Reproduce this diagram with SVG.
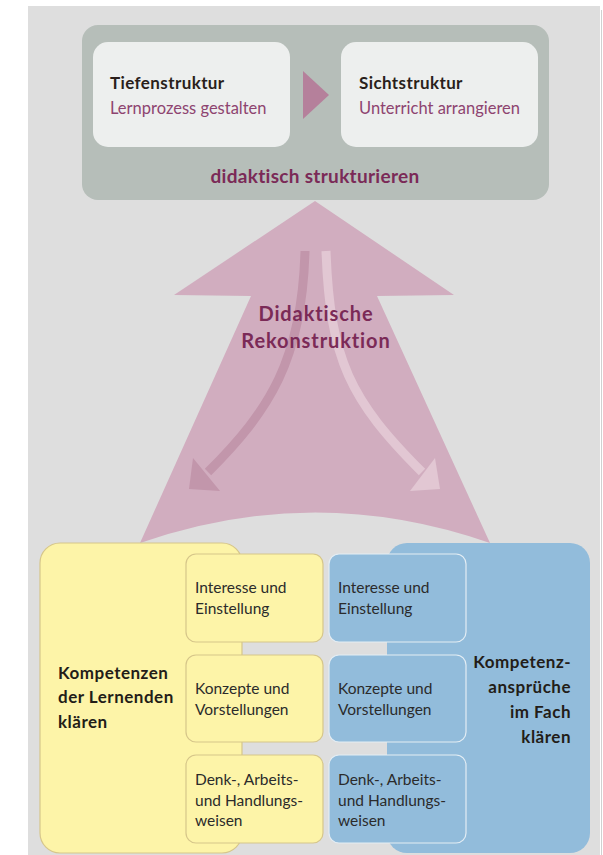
<svg xmlns="http://www.w3.org/2000/svg" width="603" height="855" viewBox="0 0 603 855">
  <style>
    text { font-family: Lato, "Open Sans", "Liberation Sans", sans-serif; }
    .head { font-size: 17px; font-weight: 700; fill: #2a1f1b; letter-spacing: 0.4px; }
    .sub { font-size: 16.5px; fill: #8e4470; }
    .title { font-size: 19px; font-weight: 700; fill: #7b2a57; letter-spacing: 0.3px; }
    .big { font-size: 20px; letter-spacing: 0.9px; }
    .item { font-size: 15.5px; fill: #2b2b2b; }
    .label { font-size: 17px; font-weight: 700; fill: #231d18; letter-spacing: 0.5px; }
    .inner { fill: #edefee; }
    .ybox { fill: #fdf4a8; stroke: #d6c68a; stroke-width: 1.2; }
    .bbox { fill: #92bcdb; stroke: #e3edf4; stroke-width: 1.2; }
  </style>

  <!-- page background -->
  <rect x="0" y="0" width="603" height="855" fill="#ffffff"/>
  <rect x="28" y="6" width="572" height="849" fill="#dedede"/>
  <line x1="601.5" y1="10" x2="601.5" y2="855" stroke="#d0d0d0" stroke-width="1"/>

  <!-- top: didaktisch strukturieren -->
  <g id="strukturieren">
    <rect x="82" y="25" width="467" height="175" rx="16" fill="#b6beb9"/>
    <text class="title" x="315" y="183" text-anchor="middle">didaktisch strukturieren</text>
  </g>
  <g id="tiefenstruktur">
    <rect class="inner" x="93" y="42" width="197" height="105" rx="15"/>
    <text class="head" x="110" y="89">Tiefenstruktur</text>
    <text class="sub" x="110" y="114">Lernprozess gestalten</text>
  </g>
  <g id="sichtstruktur">
    <rect class="inner" x="341" y="42" width="197" height="105" rx="15"/>
    <text class="head" x="359" y="89">Sichtstruktur</text>
    <text class="sub" x="359" y="114">Unterricht arrangieren</text>
  </g>

  <!-- connectors -->
  <g id="connectors">
    <polygon points="303,71 329,95 303,119" fill="#b5809b"/>
    <!-- broad reconstruction arrow -->
    <path d="M315,201 L454,295 L377,296 L490,543 Q315,482 140,543 L251,296 L174,295 Z" fill="#d1adbf"/>
    <!-- inner curved arrows -->
    <path d="M305,251 C302,360 270,410 208,472" fill="none" stroke="#c296ab" stroke-width="9"/>
    <polygon points="189,489 193,458 220,491" fill="#c296ab"/>
    <path d="M326,251 C330,360 350,400 422,472" fill="none" stroke="#e2c7d3" stroke-width="9"/>
    <polygon points="440,489 435,458 410,491" fill="#e2c7d3"/>
  </g>

  <g id="rekonstruktion">
    <text class="title big" x="316" y="321" text-anchor="middle">Didaktische</text>
    <text class="title big" x="316" y="348" text-anchor="middle">Rekonstruktion</text>
  </g>

  <!-- learners' competences -->
  <g id="lernende">
    <rect class="ybox" x="40" y="543" width="202" height="310" rx="20"/>
    <text class="label" x="58" y="679">Kompetenzen</text>
    <text class="label" x="58" y="703">der Lernenden</text>
    <text class="label" x="58" y="728">klären</text>
  </g>

  <!-- subject requirements -->
  <g id="fach">
    <rect x="387" y="543" width="203" height="310" rx="20" fill="#92bcdb"/>
    <text class="label" x="571" y="668" text-anchor="end">Kompetenz-</text>
    <text class="label" x="571" y="693" text-anchor="end">ansprüche</text>
    <text class="label" x="571" y="718" text-anchor="end">im Fach</text>
    <text class="label" x="571" y="743" text-anchor="end">klären</text>
  </g>

  <g id="lernende-interesse">
    <rect class="ybox" x="186" y="554" width="137" height="88" rx="10"/>
    <text class="item" x="195" y="593">Interesse und</text>
    <text class="item" x="195" y="614">Einstellung</text>
  </g>
  <g id="lernende-konzepte">
    <rect class="ybox" x="186" y="655" width="137" height="87" rx="10"/>
    <text class="item" x="195" y="694">Konzepte und</text>
    <text class="item" x="195" y="715">Vorstellungen</text>
  </g>
  <g id="lernende-denkweisen">
    <rect class="ybox" x="186" y="755" width="137" height="88" rx="10"/>
    <text class="item" x="195" y="785">Denk-, Arbeits-</text>
    <text class="item" x="195" y="806">und Handlungs-</text>
    <text class="item" x="195" y="826">weisen</text>
  </g>

  <g id="fach-interesse">
    <rect class="bbox" x="329" y="554" width="137" height="88" rx="10"/>
    <text class="item" x="338" y="593">Interesse und</text>
    <text class="item" x="338" y="614">Einstellung</text>
  </g>
  <g id="fach-konzepte">
    <rect class="bbox" x="329" y="655" width="137" height="87" rx="10"/>
    <text class="item" x="338" y="694">Konzepte und</text>
    <text class="item" x="338" y="715">Vorstellungen</text>
  </g>
  <g id="fach-denkweisen">
    <rect class="bbox" x="329" y="755" width="137" height="88" rx="10"/>
    <text class="item" x="338" y="785">Denk-, Arbeits-</text>
    <text class="item" x="338" y="806">und Handlungs-</text>
    <text class="item" x="338" y="826">weisen</text>
  </g>
</svg>
